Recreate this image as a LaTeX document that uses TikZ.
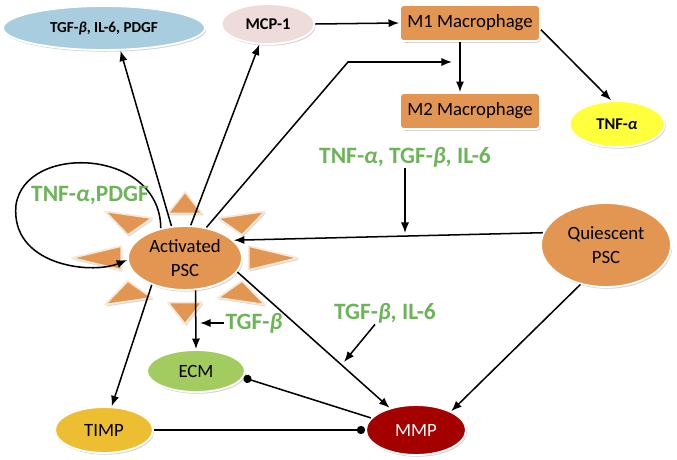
\documentclass[tikz,border=0pt]{standalone}
\usepackage{fontspec}
\setmainfont{Carlito}
\usetikzlibrary{arrows.meta, positioning, calc, shapes.geometric, shadows}
\definecolor{pscorange}{RGB}{226,150,82}
\definecolor{tgfblue}{RGB}{167,205,222}
\definecolor{mcppink}{RGB}{238,220,218}
\definecolor{tnfyellow}{RGB}{255,255,60}
\definecolor{ecmgreen}{RGB}{163,204,96}
\definecolor{timpyellow}{RGB}{238,190,50}
\definecolor{mmpred}{RGB}{165,0,0}
\definecolor{cuegreen}{RGB}{108,180,88}
\definecolor{raycream}{RGB}{245,232,215}
\newcommand{\nodefont}{\fontsize{16}{20}\selectfont}
\newcommand{\boldfont}{\fontsize{14}{18}\selectfont\bfseries}
\newcommand{\gbeta}{{\itshape β}}
\newcommand{\galpha}{{\itshape α}}
\tikzset{
    link/.style={-{Latex[length=9pt,width=7pt]}, line width=1.3pt},
    block/.style={-{Circle[length=7pt]}, line width=1.3pt},
    blob/.style={ellipse, draw=white, line width=1.6pt, inner sep=0pt, align=center,
        font=\nodefont, drop shadow={shadow xshift=1pt, shadow yshift=-1.5pt, opacity=0.35}},
    box/.style={rectangle, rounded corners=3pt, draw=white, line width=1.6pt, fill=pscorange,
        minimum width=4.2cm, minimum height=1.08cm, font=\nodefont,
        drop shadow={shadow xshift=1pt, shadow yshift=-1.5pt, opacity=0.35}},
    ray/.style={fill=pscorange, draw=raycream, line width=1.5pt, line join=round,
        drop shadow={shadow xshift=1pt, shadow yshift=-1.5pt, opacity=0.3}},
    cue/.style={text=cuegreen, inner sep=1pt, font=\fontsize{20}{24}\selectfont\bfseries}
}
\begin{document}
\begin{tikzpicture}[x=0.03cm, y=-0.03cm]
    \useasboundingbox (0,0) rectangle (677,460);
    % Sun rays round activated PSC
    \coordinate (actc) at (185,258);
    \foreach \a in {0,45,...,315}
        \path[ray] ($(actc)+({113*cos(\a)},{66*sin(\a)})$)
            -- ($(actc)+({66*cos(\a-15)},{46*sin(\a-15)})$)
            -- ($(actc)+({66*cos(\a+15)},{46*sin(\a+15)})$) -- cycle;
    % Cells and factors
    \node[blob, fill=pscorange, minimum width=3.42cm, minimum height=1.92cm] (act) at (actc) {Activated\\PSC};
    \node[blob, fill=pscorange, minimum width=3.9cm, minimum height=2.52cm] (qui) at (606,245) {Quiescent\\PSC};
    \node[blob, fill=tgfblue, minimum width=6.06cm, minimum height=1.32cm, font=\fontsize{13}{16}\selectfont\bfseries] (tgf) at (104,28) {TGF-\gbeta, IL-6, PDGF};
    \node[blob, fill=mcppink, minimum width=2.79cm, minimum height=1.2cm, font=\boldfont] (mcp) at (268,24) {MCP-1};
    \node[box] (m1) at (470,23) {M1 Macrophage};
    \node[box] (m2) at (470,111) {M2 Macrophage};
    \node[blob, fill=tnfyellow, minimum width=2.85cm, minimum height=1.38cm, font=\boldfont] (tnf) at (617,124) {TNF-\galpha};
    \node[blob, fill=ecmgreen, minimum width=2.94cm, minimum height=1.26cm] (ecm) at (196,371) {ECM};
    \node[blob, fill=timpyellow, minimum width=2.94cm, minimum height=1.38cm] (timp) at (104,430) {TIMP};
    \node[blob, fill=mmpred, text=white, minimum width=3cm, minimum height=1.5cm] (mmp) at (416,430) {MMP};
    % Upper connectors
    \draw[link] (act.113) -- (tgf.-54);
    \draw[link] (act.80) -- (mcp.-113);
    \draw[link] (mcp.east) -- (m1.west);
    \coordinate (bend) at (348,62);
    \coordinate (mtip) at (452,62);
    \draw[link] (act.55) -- (bend) -- (mtip);
    \draw[link] ([xshift=-0.3cm]m1.south) -- ([xshift=-0.3cm]m2.north);
    \draw[link] ([yshift=-0.2cm]m1.east) -- (tnf.104);
    % Quiescent to activated
    \draw[link] (qui.169) -- (act.20);
    \node[cue] (cue1) at (405,157) {TNF-\galpha, TGF-\gbeta, IL-6};
    \coordinate (hit1) at (405,233);
    \draw[link] (cue1.south) -- (hit1);
    % Self loop
    \draw[link] (act.129) .. controls (160,148) and (25,143) .. (16,205)
        .. controls (10,265) and (90,275) .. (act.182);
    \node[cue] (cue2) at (90,195) {TNF-\galpha,PDGF};
    % Lower connectors
    \draw[link] (act.-72) -- (ecm.north);
    \node[cue] (cue3) at (254,323) {TGF-\gbeta};
    \coordinate (hit2) at (200,323);
    \draw[link] (cue3.west) -- (hit2);
    \draw[link] (act.-141) -- (timp.72);
    \draw[link] (act.-15) -- (mmp.140);
    \draw[link] (qui.-123) -- (mmp.28);
    \node[cue] (cue4) at (385,313) {TGF-\gbeta, IL-6};
    \coordinate (hit3) at (344,362);
    \draw[link] ([xshift=-0.3cm]cue4.south) -- (hit3);
    \draw[block] (mmp.165) -- (ecm.-8);
    \draw[block] (timp.east) -- (mmp.west);
\end{tikzpicture}
\end{document}
